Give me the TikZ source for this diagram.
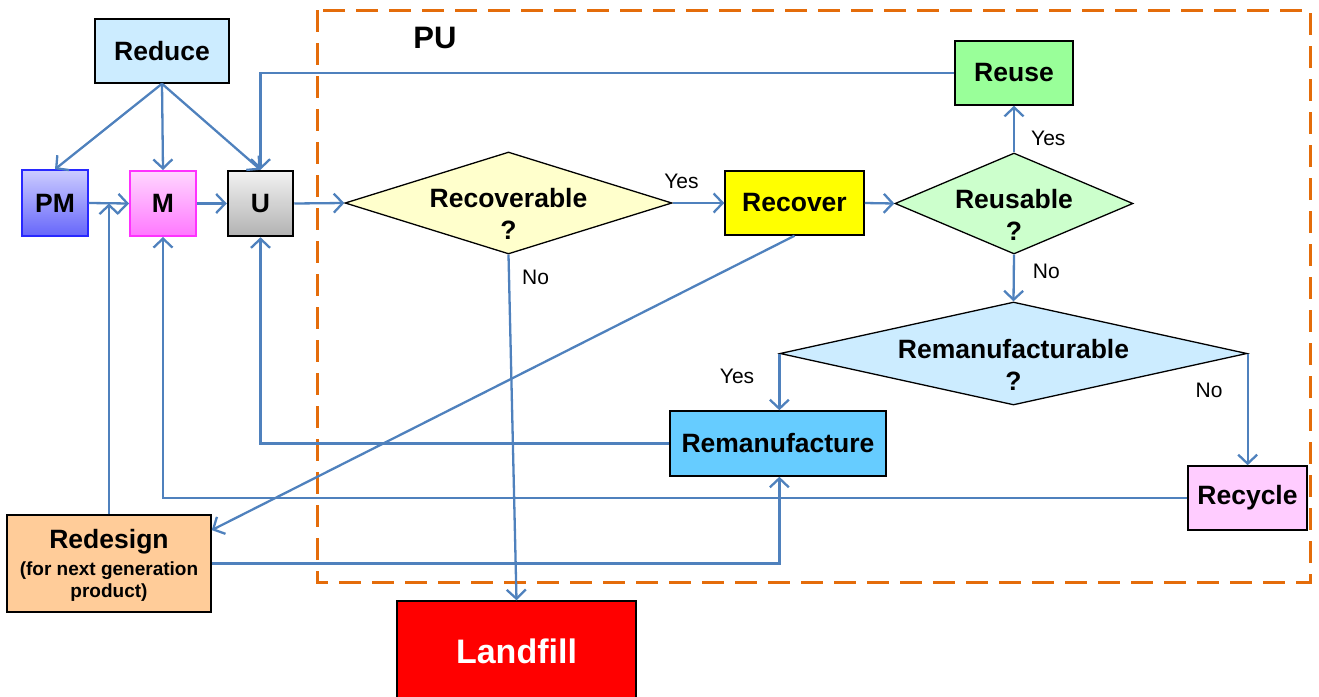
\documentclass[tikz,border=0pt]{standalone}
\usepackage{fontspec}
\setmainfont{Liberation Sans}
\usetikzlibrary{shapes.geometric,arrows.meta,calc}
\definecolor{lineblue}{RGB}{79,129,189}
\definecolor{puorange}{RGB}{228,108,10}
\definecolor{reducec}{RGB}{204,236,255}
\definecolor{pmtop}{RGB}{204,204,255}
\definecolor{pmbot}{RGB}{102,102,250}
\definecolor{pmborder}{RGB}{40,40,255}
\definecolor{mtop}{RGB}{255,215,255}
\definecolor{mbot}{RGB}{255,120,255}
\definecolor{mborder}{RGB}{255,50,255}
\definecolor{utop}{RGB}{242,242,242}
\definecolor{ubot}{RGB}{178,178,178}
\definecolor{recqc}{RGB}{255,255,204}
\definecolor{recoverc}{RGB}{255,255,0}
\definecolor{reusqc}{RGB}{204,255,204}
\definecolor{reusec}{RGB}{153,255,153}
\definecolor{remqc}{RGB}{204,236,255}
\definecolor{remanc}{RGB}{102,204,255}
\definecolor{recyclec}{RGB}{255,204,255}
\definecolor{redesignc}{RGB}{255,204,153}
\definecolor{landfillc}{RGB}{255,0,0}
\begin{document}
\begin{tikzpicture}[x=1pt,y=-1pt,
  box/.style={draw=black, line width=1.5pt, inner sep=0pt, font=\bfseries\fontsize{26.5}{30}\selectfont, align=center},
  dia/.style={shape=diamond, draw=black, line width=1.3pt, inner sep=0pt},
  dtext/.style={font=\bfseries\fontsize{26.5}{32}\selectfont, align=center, inner sep=0pt},
  conn/.style={draw=lineblue, line width=2.3pt, -{Straight Barb[length=9pt,width=19pt,line width=2.3pt]}},
  lab/.style={font=\fontsize{21}{24}\selectfont, inner sep=0pt}
]
\useasboundingbox (0,0) rectangle (1319,696);

% PU frame
\draw[puorange, line width=3pt, dash pattern=on 22pt off 11pt] (317,10) rectangle (1310,582);
\node[font=\bfseries\fontsize{31}{36}\selectfont, inner sep=0pt] (pu) at (435,38) {PU};

% boxes
\node[box, fill=reducec, minimum width=134pt, minimum height=64pt] (reduce) at (162,51) {Reduce};
\node[box, draw=pmborder, top color=pmtop, bottom color=pmbot, minimum width=66pt, minimum height=66pt] (pm) at (55,203) {PM};
\node[box, draw=mborder, line width=2pt, top color=mtop, bottom color=mbot, minimum width=66pt, minimum height=65pt] (m) at (163,203.5) {M};
\node[box, line width=2.5pt, top color=utop, bottom color=ubot, minimum width=65pt, minimum height=65pt] (u) at (260.5,203.5) {U};

\node[dia, fill=recqc, minimum width=327pt, minimum height=102pt] (recq) at (508.5,203) {};
\node[dtext] (recq-t) at ($(recq)+(0,11)$) {Recoverable\\?};
\node[box, fill=recoverc, minimum width=139pt, minimum height=64pt] (recover) at (794.5,203) {Recover};
\node[dia, fill=reusqc, minimum width=238pt, minimum height=101pt] (reusq) at (1014,203.5) {};
\node[dtext] (reusq-t) at ($(reusq)+(0,11)$) {Reusable\\?};
\node[box, fill=reusec, minimum width=118pt, minimum height=64pt] (reuse) at (1014,73) {Reuse};
\node[dia, fill=remqc, minimum width=467pt, minimum height=103pt] (remq) at (1013.5,353.5) {};
\node[dtext] (remq-t) at ($(remq)+(0,11)$) {Remanufacturable\\?};
\node[box, fill=remanc, minimum width=216pt, minimum height=65pt] (reman) at (778,443.5) {Remanufacture};
\node[box, fill=recyclec, minimum width=119pt, minimum height=64pt] (recycle) at (1247.5,498) {Recycle};
\node[box, fill=redesignc, minimum width=204pt, minimum height=97pt, text depth=0pt] (redesign) at (109,563.5)
  {Redesign\\[-3pt]\fontsize{19}{22}\selectfont (for next generation\\[-8pt]\fontsize{19}{22}\selectfont product)};
\node[box, fill=landfillc, text=white, font=\bfseries\fontsize{34}{40}\selectfont, minimum width=239pt, minimum height=100pt] (landfill) at (516.5,651) {Landfill};

% connectors
\draw[conn] (reduce.south) -- (pm.north);
\draw[conn] (reduce.south) -- (m.north);
\draw[conn] (reduce.south) -- (u.north);
\draw[conn] (pm.east) -- (m.west);
\draw[conn] (m.east) -- (u.west);
\draw[conn] (u.east) -- (recq.west);
\draw[conn] (recq.east) -- node[lab, pos=0.17, above=13pt] {Yes} (recover.west);
\draw[conn] (recover.east) -- (reusq.west);
\draw[conn] (reusq.north) -- node[lab, pos=0.3, right=16pt] {Yes} (reuse.south);
\draw[conn] (reusq.south) -- node[lab, pos=0.35, right=18pt] {No} (remq.north);
\draw[conn] (remq.west) -- node[lab, pos=0.4, left=24pt] {Yes} (remq.west |- reman.north);
\draw[conn] (remq.east) -- node[lab, pos=0.33, left=24pt] {No} (remq.east |- recycle.north);
\draw[conn] (reuse.west) -| (u.north);
\draw[conn] (reman.west) -| (u.south);
\draw[conn] (recycle.west) -| (m.south);
\draw[conn] (redesign.north) -- (redesign.north |- m.west);
\draw[conn] (recover.south) -- (redesign.18);
\draw[conn] (redesign.east) -| (remq.west |- reman.south);
\draw[conn] (recq.south) -- node[lab, pos=0.065, right=12pt] {No} (landfill.north);
\end{tikzpicture}
\end{document}
